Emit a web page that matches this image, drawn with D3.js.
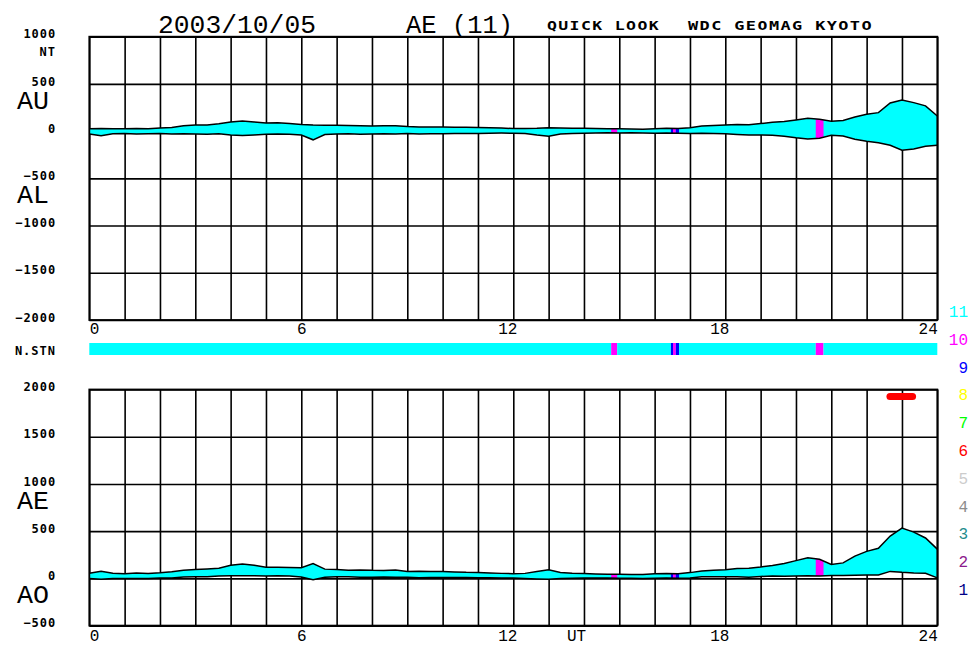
<html>
<head>
<!-- Load the d3 library. -->
<script src="https://d3js.org/d3.v7.min.js" charset="utf-8"></script>
<style>
body { margin: 0; background: white; }
svg { display: block; }
.big { font-family: "Liberation Mono", monospace; font-size: 25px; }
.tick-lbl { font-family: "DejaVu Sans Mono", monospace; font-weight: bold; font-size: 12px; letter-spacing: 1px; }
.hour-lbl { font-family: "Liberation Mono", monospace; font-size: 16px; }
</style>
</head>
<body>

<div id="canvas"></div>

<script>
// one sample every 20 minutes, 00:00 .. 24:00 UT
var stepMinutes = 20;
var auValues = [25, 28, 26, 24, 27, 25, 34, 38, 58, 64, 66, 78, 96, 106, 98, 86, 88, 82,
	70, 64, 62, 63, 60, 57, 55, 56, 57, 48, 45, 44, 45, 42, 40, 38, 35, 32,
	28, 27, 30, 36, 32, 30, 30, 27, 25, 24, 22, 20, 26, 30, 27, 36, 55, 60,
	64, 70, 67, 80, 94, 102, 118, 136, 126, 104, 112, 150, 178, 196, 298, 330, 302, 268, 160];
var alValues = [-30, -48, -28, -26, -31, -27, -25, -31, -28, -30, -34, -29, -42, -47, -40, -33, -30, -34,
	-42, -92, -36, -30, -27, -33, -30, -27, -31, -26, -30, -28, -27, -26, -24, -25, -22, -21,
	-22, -26, -42, -55, -31, -25, -22, -20, -18, -21, -18, -20, -22, -21, -23, -25, -22, -26,
	-28, -35, -40, -40, -43, -55, -70, -82, -76, -44, -52, -86, -108, -122, -150, -202, -188, -160, -150];
var aeValues = [55, 76, 54, 50, 58, 52, 59, 69, 86, 94, 100, 107, 138, 153, 138, 119, 118, 116,
	112, 156, 98, 93, 87, 90, 85, 83, 88, 74, 75, 72, 72, 68, 64, 63, 57, 53,
	50, 53, 72, 91, 63, 55, 52, 47, 43, 45, 40, 40, 48, 51, 50, 61, 77, 86,
	92, 105, 107, 120, 137, 157, 188, 218, 202, 148, 164, 236, 286, 318, 448, 532, 490, 428, 310];
var aoValues = [-2, -10, -1, -1, -2, -1, 4, 3, 15, 17, 16, 24, 27, 29, 29, 26, 29, 24,
	14, -14, 13, 16, 16, 12, 12, 14, 13, 11, 7, 8, 9, 8, 8, 6, 6, 5,
	3, 0, -6, -10, 0, 2, 4, 3, 3, 1, 2, 0, 2, 4, 2, 5, 16, 17,
	18, 17, 13, 20, 25, 23, 24, 27, 25, 30, 30, 32, 35, 37, 74, 64, 57, 54, 5];

// number of contributing stations
var stnStart = [0, 14.77, 14.94, 16.46, 16.52, 16.6, 16.69, 20.56, 20.78];
var stnEnd = [14.77, 14.94, 16.46, 16.52, 16.6, 16.69, 20.56, 20.78, 24];
var stnCount = [11, 10, 11, 9, 10, 9, 11, 10, 11];

var legendCounts = [11, 10, 9, 8, 7, 6, 5, 4, 3, 2, 1];
var legendColors = ["#00ffff", "#ff00ff", "#0000ff", "#ffff00", "#00ff00", "#ff0000",
	"#cccccc", "#8c8c8c", "#1f8c8c", "#8c1a8c", "#000088"];

var hourTicks = [0, 6, 12, 18, 24];
var upperTicks = [1000, 500, 0, -500, -1000, -1500, -2000];
var lowerTicks = [2000, 1500, 1000, 500, 0, -500];

// red mark in lower panel
var markFrom = 22.66, markTo = 23.3, markLevel = 1925;

var svg = d3.select("#canvas").append("svg").attr("width", 973).attr("height", 646);

var x = d3.scaleLinear().domain([0, 24]).range([89.3, 937.3]);
var yTop = d3.scaleLinear().domain([-2000, 1000]).range([320, 36.7]);
var yBot = d3.scaleLinear().domain([-500, 2000]).range([625.6, 389.5]);
var color = d3.scaleOrdinal().domain(legendCounts).range(legendColors);

var samples = auValues.map(function(v, i){
	return {h: i * stepMinutes / 60, au: v, al: alValues[i], ae: aeValues[i], ao: aoValues[i]};
});

function drawPanel(name, y, ticks, lo, hi, labelHour, bigLabels){
	var g = svg.append("g").attr("class", name);
	var y0 = y.range()[0], y1 = y.range()[1];

	// grid
	g.append("g")
		.attr("transform", "translate(0," + y0 + ")")
		.call(d3.axisBottom(x).tickValues(d3.range(0, 25)).tickSize(-(y0 - y1)).tickFormat(""))
		.call(function(a){ a.select(".domain").remove(); })
		.selectAll("line").attr("stroke", "#000").attr("stroke-width", 1.6);
	g.append("g")
		.attr("transform", "translate(" + x(0) + ",0)")
		.call(d3.axisLeft(y).tickValues(ticks).tickFormat(d3.format("d"))
			.tickSize(-(x(24) - x(0))).tickPadding(33))
		.call(function(a){
			a.select(".domain").remove();
			a.selectAll("line").attr("stroke", "#000").attr("stroke-width", 1.6);
			a.selectAll("text").attr("class", "tick-lbl").attr("fill", "#000")
				.attr("dy", "0.1em").attr("font-size", null).attr("font-family", null);
		});

	// data fill between the two series, coloured by station count
	var area = d3.area()
		.x(function(d){ return x(d.h); })
		.y0(function(d){ return y(d[lo]); })
		.y1(function(d){ return y(d[hi]); });
	g.append("path").datum(samples).attr("d", area).attr("fill", color(11));
	stnCount.forEach(function(n, i){
		if (n === 11) return;
		var id = name + "clip" + i;
		g.append("clipPath").attr("id", id).append("rect")
			.attr("x", x(stnStart[i])).attr("width", x(stnEnd[i]) - x(stnStart[i]))
			.attr("y", y1).attr("height", y0 - y1);
		g.append("path").datum(samples).attr("d", area)
			.attr("fill", color(n)).attr("clip-path", "url(#" + id + ")");
	});
	[lo, hi].forEach(function(k){
		g.append("path").datum(samples)
			.attr("d", d3.line().x(function(d){ return x(d.h); }).y(function(d){ return y(d[k]); }))
			.attr("fill", "none").attr("stroke", "#000").attr("stroke-width", 1.5);
	});

	// frame
	g.append("rect").attr("x", x(0)).attr("y", y1)
		.attr("width", x(24) - x(0)).attr("height", y0 - y1)
		.attr("fill", "none").attr("stroke", "#000").attr("stroke-width", 1.8);

	// hour labels
	g.append("g")
		.attr("transform", "translate(0," + labelHour + ")")
		.call(d3.axisBottom(x).tickValues(hourTicks).tickSize(0).tickPadding(0))
		.call(function(a){
			a.select(".domain").remove();
			a.selectAll("text").attr("class", "hour-lbl").attr("fill", "#000")
				.attr("dy", 0).attr("font-size", null).attr("font-family", null)
				.attr("text-anchor", function(d){ return d === 0 ? "start" : d === 24 ? "end" : "middle"; })
				.attr("dx", function(d){ return d >= 10 && d < 24 ? -6 : 0; });
		});

	bigLabels.forEach(function(b){
		g.append("text").attr("class", "big").attr("x", 17).attr("y", y(b[1]))
			.attr("textLength", 32).attr("lengthAdjust", "spacingAndGlyphs").text(b[0]);
	});
}

drawPanel("upper", yTop, upperTicks, "al", "au", 334, [["AU", 237], ["AL", -765]]);
drawPanel("lower", yBot, lowerTicks, "ao", "ae", 641, [["AE", 735], ["AO", -265]]);

// extra labels
svg.append("text").attr("class", "tick-lbl").attr("x", 56).attr("y", 56)
	.attr("text-anchor", "end").text("NT");
svg.append("text").attr("class", "hour-lbl").attr("x", 567).attr("y", 641).text("UT");

// title
svg.append("text").attr("class", "big").attr("font-size", 26).attr("x", 158).attr("y", 33)
	.attr("textLength", 158).attr("lengthAdjust", "spacingAndGlyphs").text("2003/10/05");
svg.append("text").attr("class", "big").attr("font-size", 26).attr("x", 406).attr("y", 33)
	.attr("textLength", 107).attr("lengthAdjust", "spacingAndGlyphs").text("AE (11)");
svg.append("text").attr("class", "tick-lbl").attr("font-size", 15).attr("x", 547).attr("y", 30)
	.attr("textLength", 113).attr("lengthAdjust", "spacingAndGlyphs").text("QUICK LOOK");
svg.append("text").attr("class", "tick-lbl").attr("font-size", 15).attr("x", 688).attr("y", 30)
	.attr("textLength", 185).attr("lengthAdjust", "spacingAndGlyphs").text("WDC GEOMAG KYOTO");

// station count bar
svg.append("text").attr("class", "tick-lbl").attr("x", 56).attr("y", 355)
	.attr("text-anchor", "end").text("N.STN");
svg.append("g").selectAll("rect").data(stnCount).enter().append("rect")
	.attr("x", function(d, i){ return x(stnStart[i]); })
	.attr("width", function(d, i){ return x(stnEnd[i]) - x(stnStart[i]); })
	.attr("y", 343).attr("height", 12)
	.attr("fill", function(d){ return color(d); });

// legend of station counts
svg.append("g").selectAll("text").data(legendCounts).enter().append("text")
	.attr("class", "hour-lbl").attr("font-size", 18)
	.attr("x", 968).attr("y", function(d, i){ return 317 + i * 27.8; })
	.attr("text-anchor", "end")
	.attr("fill", function(d){ return color(d); })
	.text(function(d){ return d; });

// red mark
svg.append("line")
	.attr("x1", x(markFrom)).attr("x2", x(markTo))
	.attr("y1", yBot(markLevel)).attr("y2", yBot(markLevel))
	.attr("stroke", "#ff0000").attr("stroke-width", 7).attr("stroke-linecap", "round");
</script>

</body>
</html>
